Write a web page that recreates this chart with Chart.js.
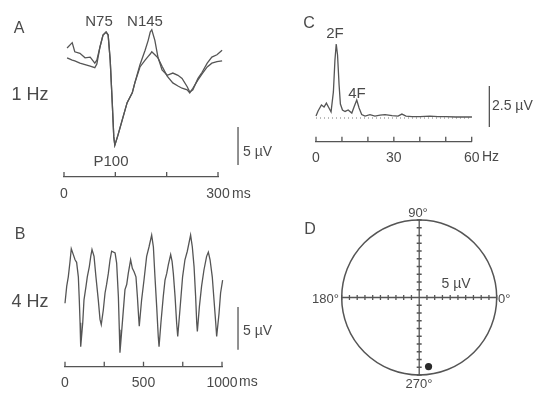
<!DOCTYPE html>
<html>
<head>
<meta charset="utf-8">
<script src="https://cdn.jsdelivr.net/npm/chart.js@4.4.1/dist/chart.umd.min.js"></script>
<style>
  body { margin: 0; background: #fff; }
  #fig { position: relative; width: 534px; height: 397px; overflow: hidden;
         font-family: "Liberation Sans", Arial, sans-serif; color: #4a4a4a; }
  canvas { position: absolute; }
  .t, .l, .r { position: absolute; line-height: 1; white-space: nowrap; }
  .t { transform: translate(-50%, -50%); }
  .l { transform: translate(0, -50%); }
  .r { transform: translate(-100%, -50%); }
</style>
</head>
<body>
<div id="fig">
  <canvas id="cA" width="290" height="215" style="left:0;top:0"></canvas>
  <canvas id="cB" width="290" height="197" style="left:0;top:200px"></canvas>
  <canvas id="cC" width="244" height="190" style="left:290px;top:0"></canvas>
  <canvas id="cD" width="244" height="207" style="left:290px;top:190px"></canvas>

  <!-- A -->
  <div class="t" style="left:19px;top:28px;font-size:16px">A</div>
  <div class="t" style="left:30px;top:94px;font-size:18px">1 Hz</div>
  <div class="t" style="left:99px;top:20px;font-size:15px">N75</div>
  <div class="t" style="left:145px;top:20px;font-size:15px">N145</div>
  <div class="t" style="left:111px;top:160px;font-size:15px">P100</div>
  <div class="l" style="left:243px;top:151px;font-size:14px">5 µV</div>
  <div class="l" style="left:232px;top:193px;font-size:14px">ms</div>

  <!-- B -->
  <div class="t" style="left:20px;top:234px;font-size:16px">B</div>
  <div class="t" style="left:30px;top:301px;font-size:18px">4 Hz</div>
  <div class="l" style="left:243px;top:330px;font-size:14px">5 µV</div>
  <div class="l" style="left:239px;top:381px;font-size:14px">ms</div>

  <!-- C -->
  <div class="t" style="left:309px;top:23px;font-size:16px">C</div>
  <div class="t" style="left:335px;top:32px;font-size:15px">2F</div>
  <div class="t" style="left:357px;top:92px;font-size:15px">4F</div>
  <div class="l" style="left:492px;top:105px;font-size:14px">2.5 µV</div>
  <div class="l" style="left:482px;top:156px;font-size:14px">Hz</div>

  <!-- D -->
  <div class="t" style="left:310px;top:229px;font-size:16px">D</div>
  <div class="t" style="left:418px;top:212px;font-size:13px">90°</div>
  <div class="t" style="left:419px;top:383px;font-size:13px">270°</div>
  <div class="r" style="left:339px;top:298px;font-size:13px">180°</div>
  <div class="l" style="left:498px;top:298px;font-size:13px">0°</div>
  <div class="t" style="left:456px;top:283px;font-size:14px">5 µV</div>
</div>

<script>
const LINE = "#555";
const TEXT = "#4a4a4a";
const FONT = "'Liberation Sans', Arial, sans-serif";

// A: transient VEP at 1 Hz, two superimposed traces (ms, µV)
const timeA = [6, 16, 21, 31, 41, 51, 60, 64, 70, 76, 82, 86, 90, 94, 97, 99, 105, 115, 123, 133,
  138, 148, 158, 164, 168, 171, 177, 183, 191, 201, 212, 222, 230, 240, 245, 251, 261, 269, 279, 288, 298, 308];
const trace1A = [2.9, 3.6, 2.4, 2.2, 1.6, 1.7, 0.9, 1.3, 3.0, 4.6, 5.0, 4.6, 1.3, -4.3, -8.8, -9.9, -8.6, -6.2, -4.3, -3.0,
  -1.7, 0.7, 2.6, 3.9, 5.0, 5.3, 3.9, 1.7, 0, -0.7, -0.4, -0.7, -1.1, -2.2, -2.9, -2.6, -1.1, -0.3, 0.9, 1.7, 2.0, 2.6];
const trace2A = [1.6, 1.3, 1.2, 0.9, 0.7, 0.5, 0.3, 0.8, 3.0, 4.6, 5.0, 4.6, 1.3, -4.3, -8.8, -9.9, -8.6, -6.2, -4.3, -3.0,
  -1.7, 0.4, 1.3, 1.8, 2.1, 2.4, 2.0, 1.6, 0.5, -0.8, -1.7, -2.1, -2.4, -2.6, -3.0, -2.4, -1.3, -0.5, 0.4, 0.9, 1.1, 1.2];
const ticksA = [0, 100, 200, 300];
const tickLabelsA = ["0", "", "", "300"];

// B: steady-state VEP at 4 Hz (ms, µV)
const timeB = [0, 11, 21, 32, 40, 53, 64, 74, 85, 91, 96, 100, 113, 121, 134, 142, 155, 164, 172, 185,
  197, 212, 223, 231, 244, 255, 265, 276, 287, 297, 319, 329, 340, 346, 350, 367, 382, 393, 403, 418,
  429, 440, 452, 461, 469, 473, 488, 503, 520, 535, 552, 563, 573, 584, 594, 599, 611, 626, 637, 648,
  658, 673, 682, 690, 701, 711, 718, 732, 749, 764, 779, 800, 811, 822, 832, 839, 843, 856, 870, 885,
  902, 913, 924, 938, 949, 960, 966, 981, 991, 1004, 1015];
const traceB = [-0.4, 1.6, 2.7, 4.5, 6.0, 5.3, 4.7, 4.4, 2.7, 0, -2.7, -5.5, -2.7, 0, 1.6, 2.7, 3.9, 5.1, 5.9, 5.1,
  2.7, 0, -2.3, -2.9, -1.2, 0.8, 1.8, 3.1, 4.7, 5.7, 5.5, 4.3, 0.4, -3.5, -6.2, -2.3, 1.2, 1.8, 3.1, 4.7,
  3.7, 3.3, 2.7, 0.4, -2.0, -3.1, 0, 2.3, 5.1, 6.2, 7.6, 6.2, 2.7, -0.8, -4.3, -5.5, -2.7, 0.4, 2.3, 3.1,
  4.1, 5.3, 4.5, 3.1, 0.4, -2.7, -4.3, -1.2, 2.7, 4.7, 5.7, 7.6, 6.2, 3.9, 0.4, -2.7, -3.7, -0.8, 1.6, 3.5,
  5.1, 5.6, 4.7, 2.7, 0, -2.7, -4.3, -1.6, 0.8, 2.3, 3.1];
const ticksB = [0, 250, 500, 750, 1000];
const tickLabelsB = ["0", "", "500", "", "1000"];

// C: amplitude spectrum (Hz, µV)
const freqC = [0, 0.8, 2.1, 3.1, 4.0, 5.0, 5.8, 6.7, 7.3, 7.8, 8.3, 8.9, 9.4, 10.2, 11.2, 12.4, 13.8, 14.8, 15.7, 16.6,
  17.6, 18.9, 20.8, 22.7, 24.7, 26.6, 29.3, 31.6, 33.1, 34.7, 37.0, 40.1, 43.9, 47.0, 50.1, 53.9, 57.8, 60.1];
const ampC = [0.12, 0.43, 0.79, 0.67, 0.91, 0.61, 0.37, 1.59, 3.54, 4.51, 3.84, 2.01, 0.85, 0.49, 0.40, 0.49, 0.30, 0.73, 1.10, 0.61,
  0.21, 0.12, 0.21, 0.12, 0.18, 0.21, 0.15, 0.12, 0.24, 0.12, 0.09, 0.09, 0.12, 0.09, 0.09, 0.06, 0.06, 0.06];
const ticksC = [0, 10, 20, 30, 40, 50, 60];
const tickLabelsC = ["0", "", "", "30", "", "", "60"];

// D: 2F response as a vector (µV, degrees)
const ampD = [4.5];
const phaseD = [277.7];
const radiusD = 5;
const stepD = 0.5;

// calibration bars (x position in axis units, start value, length in µV)
const barA = { at: 339, from: -12.5, size: 5 };
const barB = { at: 1102, from: -5.85, size: 5 };
const barC = { at: 66.8, from: -0.55, size: 2.5 };

const upTicks = {
  id: "upTicks",
  afterDraw(chart, args, opts) {
    const s = chart.scales.x;
    const ctx = chart.ctx;
    const y = chart.chartArea.bottom;
    ctx.save();
    ctx.strokeStyle = LINE;
    ctx.lineWidth = 1.3;
    ctx.beginPath();
    s.ticks.forEach(t => {
      const x = s.getPixelForValue(t.value);
      ctx.moveTo(x, y);
      ctx.lineTo(x, y - opts.len);
    });
    ctx.stroke();
    ctx.restore();
  }
};

const polarFrame = {
  id: "polarFrame",
  beforeDatasetsDraw(chart) {
    const { ctx, scales: { x, y } } = chart;
    const cx = x.getPixelForValue(0), cy = y.getPixelForValue(0);
    const r = x.getPixelForValue(radiusD) - cx;
    ctx.save();
    ctx.strokeStyle = LINE;
    ctx.lineWidth = 1.5;
    ctx.beginPath();
    ctx.arc(cx, cy, r, 0, Math.PI * 2);
    ctx.stroke();
    ctx.lineWidth = 1.3;
    ctx.beginPath();
    ctx.moveTo(x.getPixelForValue(-radiusD), cy);
    ctx.lineTo(x.getPixelForValue(radiusD), cy);
    ctx.moveTo(cx, y.getPixelForValue(-radiusD));
    ctx.lineTo(cx, y.getPixelForValue(radiusD));
    for (let v = -radiusD; v <= radiusD + 1e-9; v += stepD) {
      const px = x.getPixelForValue(v), py = y.getPixelForValue(v);
      ctx.moveTo(px, cy - 2.5); ctx.lineTo(px, cy + 2.5);
      ctx.moveTo(cx - 2.5, py); ctx.lineTo(cx + 2.5, py);
    }
    ctx.stroke();
    ctx.restore();
  }
};

function serie(xs, ys, extra) {
  return Object.assign({
    data: xs.map((x, i) => ({ x: x, y: ys[i] })),
    showLine: true,
    clip: false,
    borderColor: LINE,
    borderWidth: 1.3,
    pointRadius: 0,
    tension: 0
  }, extra || {});
}

function barSerie(bar) {
  return serie([bar.at, bar.at], [bar.from, bar.from + bar.size]);
}

function traceChart(id, cfg) {
  return new Chart(document.getElementById(id), {
    type: "scatter",
    data: { datasets: cfg.datasets },
    options: {
      responsive: false,
      animation: false,
      layout: { padding: cfg.padding, autoPadding: false },
      plugins: { legend: { display: false }, tooltip: { enabled: false }, upTicks: { len: 5 } },
      scales: {
        x: {
          type: "linear",
          min: cfg.ticks[0],
          max: cfg.ticks[cfg.ticks.length - 1],
          afterBuildTicks: s => { s.ticks = cfg.ticks.map(v => ({ value: v })); },
          afterFit: s => { s.height = 30; },
          grid: { display: false },
          border: { display: true, color: LINE, width: 1.3 },
          ticks: {
            padding: cfg.labelPad, color: TEXT, autoSkip: false, maxRotation: 0,
            font: { family: FONT, size: 14 },
            callback: (v, i) => cfg.tickLabels[i]
          }
        },
        y: { display: false, min: cfg.yMin, max: cfg.yMax }
      }
    },
    plugins: [upTicks]
  });
}

traceChart("cA", {
  datasets: [serie(timeA, trace1A), serie(timeA, trace2A), barSerie(barA)],
  padding: { left: 64, right: 72, top: 20, bottom: 8 },
  ticks: ticksA, tickLabels: tickLabelsA, labelPad: 1, yMin: -14.08, yMax: 6.58
});

traceChart("cB", {
  datasets: [serie(timeB, traceB), barSerie(barB)],
  padding: { left: 65, right: 68, top: 25, bottom: 0.3 },
  ticks: ticksB, tickLabels: tickLabelsB, labelPad: 0, yMin: -7.85, yMax: 8.78
});

traceChart("cC", {
  datasets: [
    serie(freqC, ampC),
    serie([ticksC[0], ticksC[ticksC.length - 1]], [0, 0], { borderWidth: 1, borderDash: [1, 3], borderColor: "#777" }),
    barSerie(barC)
  ],
  padding: { left: 26, right: 62.3, top: 20, bottom: 18.3 },
  ticks: ticksC, tickLabels: tickLabelsC, labelPad: 0, yMin: -1.445, yMax: 5.976
});

new Chart(document.getElementById("cD"), {
  type: "scatter",
  data: {
    datasets: [{
      data: ampD.map((a, i) => ({
        x: a * Math.cos(phaseD[i] * Math.PI / 180),
        y: a * Math.sin(phaseD[i] * Math.PI / 180)
      })),
      pointRadius: 3.6,
      backgroundColor: "#2a2a2a",
      borderWidth: 0
    }]
  },
  options: {
    responsive: false,
    animation: false,
    layout: { padding: { left: 51.7, right: 37.3, top: 30, bottom: 22 }, autoPadding: false },
    plugins: { legend: { display: false }, tooltip: { enabled: false } },
    scales: {
      x: { display: false, min: -radiusD, max: radiusD },
      y: { display: false, min: -radiusD, max: radiusD }
    }
  },
  plugins: [polarFrame]
});
</script>
</body>
</html>
